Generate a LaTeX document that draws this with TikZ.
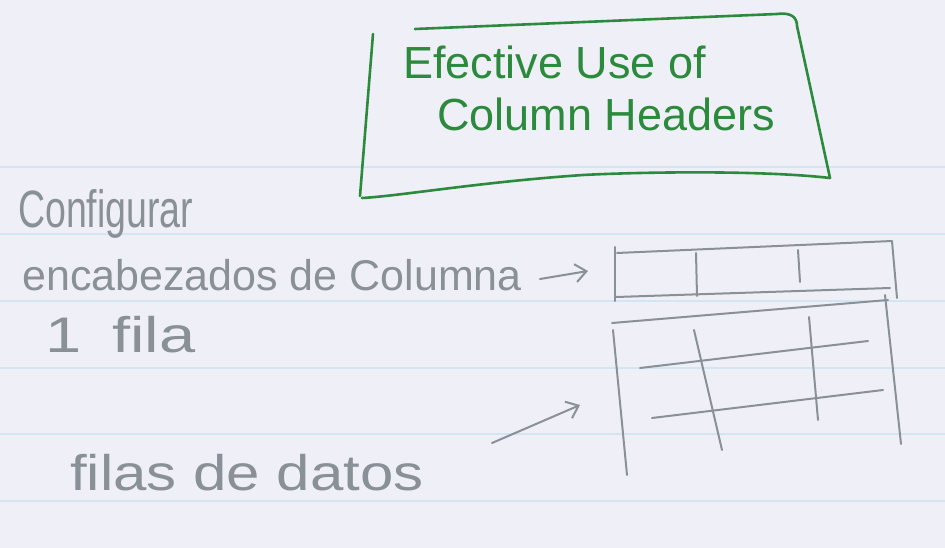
\documentclass[tikz,border=0pt]{standalone}
\usepackage{fontspec}
\setmainfont{Liberation Sans}
\usetikzlibrary{arrows.meta}
\definecolor{paper}{HTML}{EFEFF8}
\definecolor{rule}{HTML}{D4E5F2}
\definecolor{pencil}{HTML}{8A9097}
\definecolor{marker}{HTML}{2B8A3B}
\tikzset{
  ruling/.style={draw=rule, line width=1.4pt},
  ink/.style={draw=pencil, line width=2pt, line cap=round, line join=round},
  greenink/.style={draw=marker, line width=2.6pt, line cap=round, line join=round},
  note/.style={text=pencil, anchor=base west, inner sep=0pt, font=\fontsize{43}{50}\selectfont},
  bignote/.style={note, font=\fontsize{50}{58}\selectfont},
  heading/.style={text=marker, anchor=base west, inner sep=0pt, font=\fontsize{45}{52}\selectfont},
  pointer/.style={ink, -{Straight Barb[length=11pt,width=18pt,line width=2pt]}},
}
\begin{document}
\begin{tikzpicture}[x=1pt, y=-1pt]
  % paper and ruled lines
  \path[fill=paper] (0,0) rectangle (945,548);
  \useasboundingbox (0,0) rectangle (945,548);
  \foreach \ry in {167,234,301,368,434,501}
    \draw[ruling] (0,\ry) -- (945,\ry);

  % title with hand-drawn frame
  \node[heading] (title1) at (403,79) {Efective Use of};
  \node[heading] (title2) at (437,131) {Column Headers};
  \draw[greenink] (373,34) -- (360,196);
  \draw[greenink] (415,29) -- (777,14) .. controls (792,12) and (797,18) .. (797,26) -- (830,178);
  \draw[greenink] (830,178) .. controls (760,170) and (640,172) .. (583,175) .. controls (480,182) and (400,196) .. (362,198);

  % notes on the left
  \node[bignote, xscale=0.75, yscale=1.05, transform shape] (cfg) at (18,228) {Configurar};
  \node[note] (hdrlabel) at (22,290) {encabezados de Columna};
  \node[bignote, xscale=1.3, transform shape] (onerow) at (45,352) {1\hspace{10pt} fila};
  \node[bignote, xscale=1.2, transform shape] (datalabel) at (70,490) {filas de datos};

  % header row of the table
  \draw[ink] (615,247) -- (615,301);
  \draw[ink] (617,253) -- (892,241) -- (897,298);
  \draw[ink] (616,297) -- (890,288);
  \draw[ink] (696,253) -- (697,296);
  \draw[ink] (798,250) -- (800,282);

  % body rows of the table
  \draw[ink] (612,323) -- (888,300);
  \draw[ink] (613,330) -- (627,475);
  \draw[ink] (885,295) -- (901,444);
  \draw[ink] (694,330) -- (722,450);
  \draw[ink] (809,317) -- (818,420);
  \draw[ink] (640,368) -- (868,341);
  \draw[ink] (652,418) -- (883,390);

  % pointers from the notes to the table
  \coordinate (hdrtail) at (540,279);
  \coordinate (hdrtip) at (588,271);
  \coordinate (datatail) at (492,443);
  \coordinate (datatip) at (580,405);
  \draw[pointer] (hdrtail) -- (hdrtip);
  \draw[pointer] (datatail) -- (datatip);
\end{tikzpicture}
\end{document}
